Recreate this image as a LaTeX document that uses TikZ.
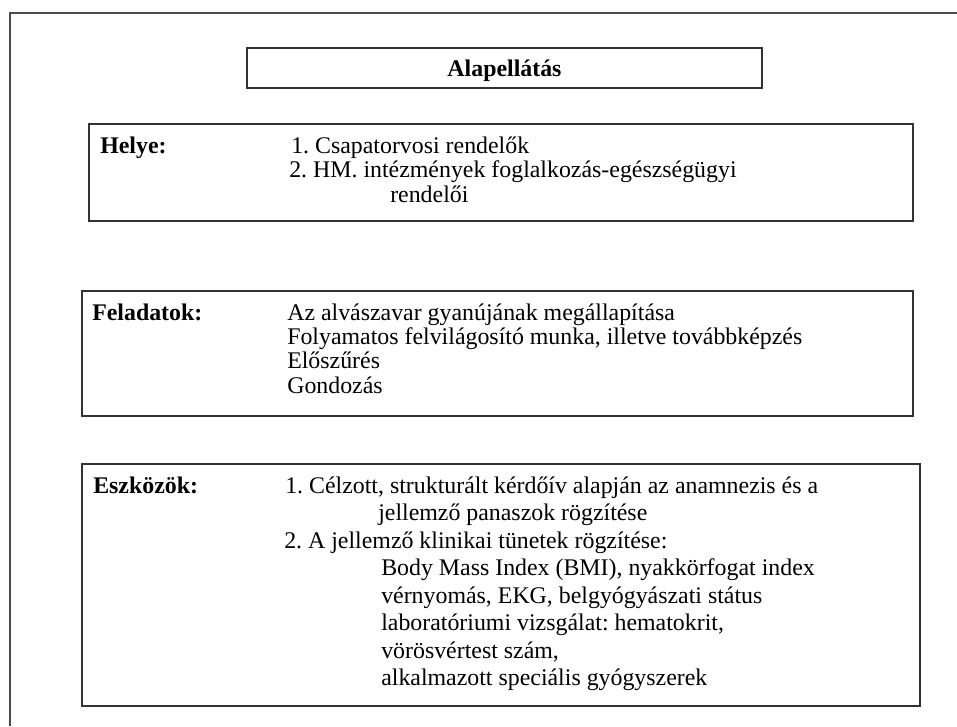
\documentclass[tikz,border=0pt]{standalone}
\usepackage{fontspec}
\setmainfont{Liberation Serif}
\frenchspacing
\begin{document}
\begin{tikzpicture}[x=0.75pt,y=-0.75pt,
  frame/.style={draw=black!70,line width=1.1pt},
  box/.style={draw=black!80,line width=0.9pt},
  txt/.style={inner sep=0pt,anchor=base west,font=\fontsize{17.9}{21}\selectfont},
  lbl/.style={txt,font=\fontsize{17.9}{21}\selectfont\bfseries}]
\useasboundingbox (0,0) rectangle (957,726);
\fill[white] (0,0) rectangle (957,726);
% outer frame (cut off at right and bottom)
\draw[frame] (957,13) -- (10,13) -- (10,726);
% boxes
\draw[box] (247,48) rectangle (762,88);
\draw[box] (89,124) rectangle (913,221);
\draw[box] (82,291) rectangle (913,416);
\draw[box] (82,464) rectangle (920,706);
% title
\node[lbl,anchor=base] (title) at (504.5,76) {Alapellátás};
% Helye
\node[lbl] (helye) at (100,153) {Helye:};
\node[txt] (h1) at (291,153) {1. Csapatorvosi rendelők};
\node[txt] (h2) at (289,177.5) {2. HM. intézmények foglalkozás-egészségügyi};
\node[txt] (h3) at (390,202) {rendelői};
% Feladatok
\node[lbl] (felad) at (92,320) {Feladatok:};
\node[txt] (f1) at (287,320) {Az alvászavar gyanújának megállapítása};
\node[txt] (f2) at (287,344.4) {Folyamatos felvilágosító munka, illetve továbbképzés};
\node[txt] (f3) at (287,368.8) {Előszűrés};
\node[txt] (f4) at (287,393.2) {Gondozás};
% Eszközök
\node[lbl] (eszk) at (93,493) {Eszközök:};
\node[txt] (e1) at (285,493) {1. Célzott, strukturált kérdőív alapján az anamnezis és a};
\node[txt] (e2) at (378,520.5) {jellemző panaszok rögzítése};
\node[txt] (e3) at (284,548) {2. A jellemző klinikai tünetek rögzítése:};
\node[txt] (e4) at (381,575.5) {Body Mass Index (BMI), nyakkörfogat index};
\node[txt] (e5) at (381,603) {vérnyomás, EKG, belgyógyászati státus};
\node[txt] (e6) at (381,630.5) {laboratóriumi vizsgálat: hematokrit,};
\node[txt] (e7) at (381,658) {vörösvértest szám,};
\node[txt] (e8) at (381,685.5) {alkalmazott speciális gyógyszerek};
\end{tikzpicture}
\end{document}
